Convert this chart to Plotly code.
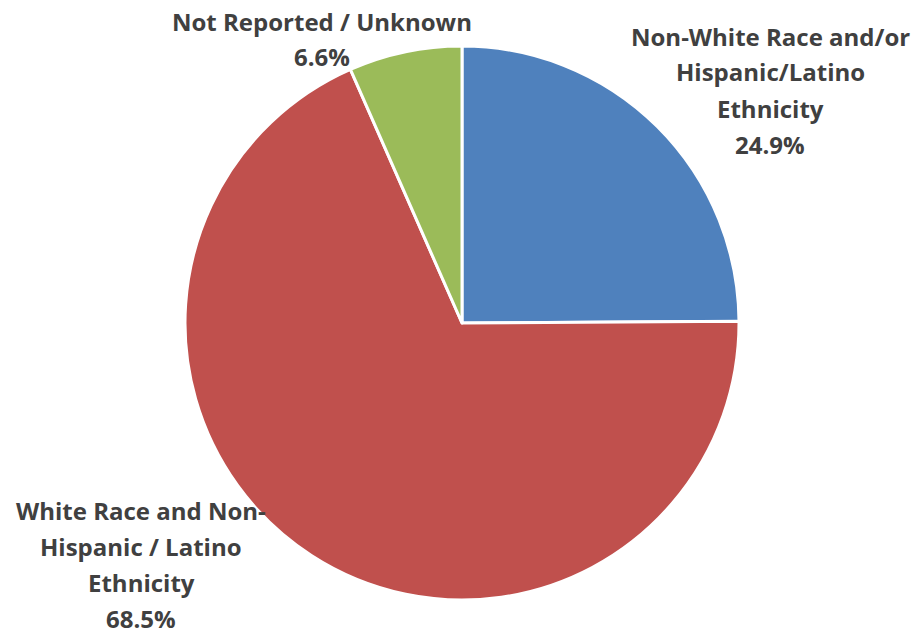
import plotly.graph_objects as go

categories = ["Non-White Race and/or Hispanic/Latino Ethnicity",
              "White Race and Non-Hispanic / Latino Ethnicity",
              "Not Reported / Unknown"]
values = [24.9, 68.5, 6.6]
colors = ["#4F81BD", "#C0504D", "#9BBB59"]

# label line breaks as they appear in the chart
label_lines = [
    ["Non-White Race and/or", "Hispanic/Latino", "Ethnicity"],
    ["White Race and Non-", "Hispanic / Latino", "Ethnicity"],
    ["Not Reported / Unknown"],
]

W, H = 919, 633
OFF = 8  # page body margin offset compensation
cx0, cy0, R = 462 - OFF, 323 - OFF, 277
fig = go.Figure(go.Pie(
    labels=categories, values=values, sort=False, direction="clockwise",
    rotation=0, marker=dict(colors=colors, line=dict(color="white", width=3)),
    textinfo="none", hoverinfo="label+percent", showlegend=False,
    domain=dict(x=[(cx0 - R) / W, (cx0 + R) / W],
                y=[(H - cy0 - R) / H, (H - cy0 + R) / H]),
))

# label anchor (center x, first-line y in px) and line spacing
anchors = [(770, 36, 36), (141, 510, 36), (322, 21, 35)]
font = dict(family="Open Sans", size=24, color="#404040")
annotations = []
for lines, val, (cx, y0, dy) in zip(label_lines, values, anchors):
    all_lines = [f"<b>{t}</b>" for t in lines] + [f"<b>{val:.1f}%</b>"]
    for i, t in enumerate(all_lines):
        annotations.append(dict(
            text=t, x=(cx - OFF) / W, y=1 - (y0 - OFF + i * dy) / H,
            xref="paper", yref="paper",
            xanchor="center", yanchor="middle", showarrow=False, font=font))

fig.update_layout(width=W, height=H, margin=dict(l=0, r=0, t=0, b=0),
                  paper_bgcolor="white", plot_bgcolor="white",
                  annotations=annotations)
fig.write_html("out.html")
